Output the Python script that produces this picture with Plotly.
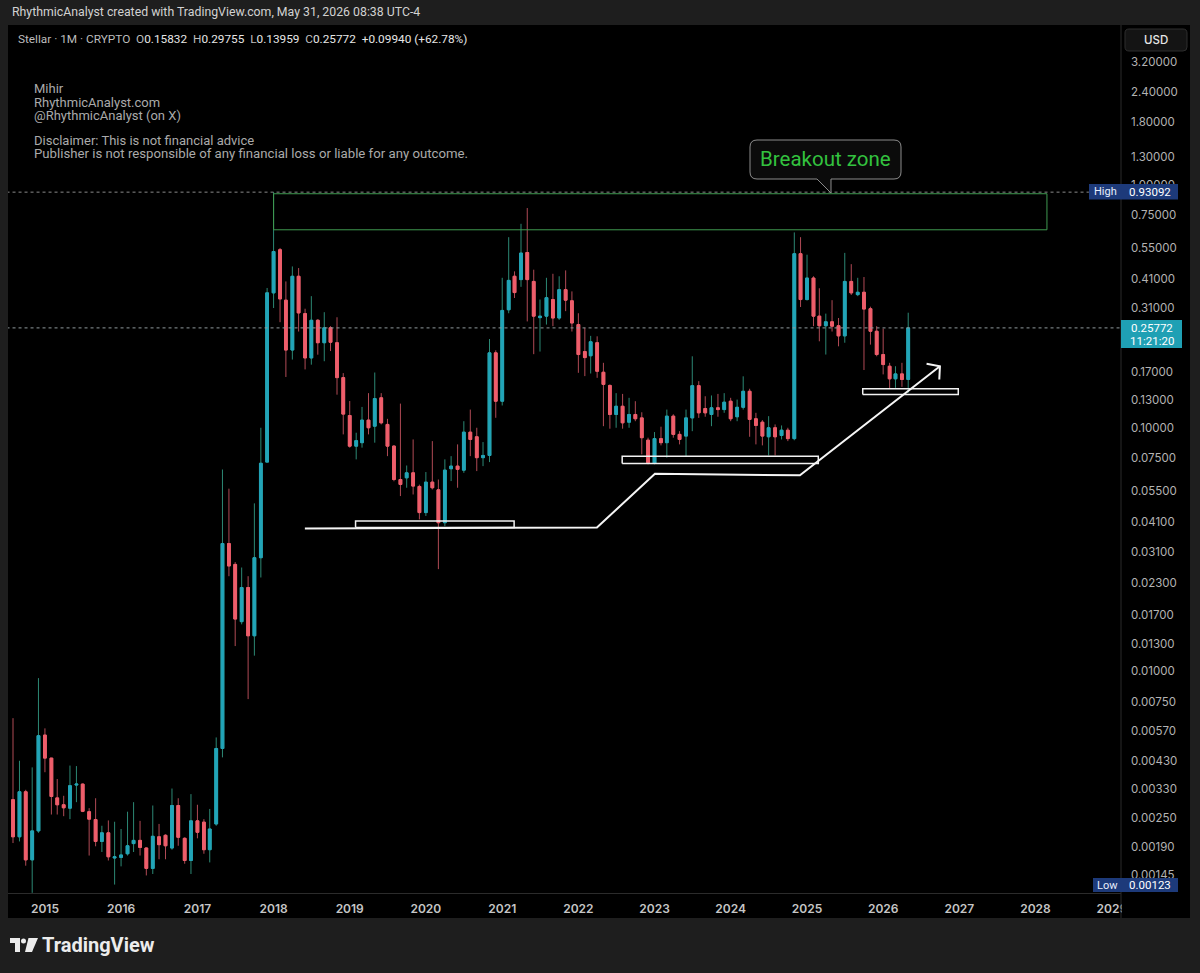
import numpy as np
import pandas as pd
import plotly.graph_objects as go

# ---------------- data (monthly XLM/USD, Aug 2014 - May 2026) ----------------
months = pd.date_range("2014-08-01", periods=142, freq="MS")

opens = [
    0.00297, 0.00209, 0.00320, 0.00168, 0.00221,
    0.00547, 0.00440, 0.00302, 0.00283, 0.00274, 0.00341, 0.00344, 0.00265, 0.00246, 0.00200, 0.00217, 0.00171,
    0.00172, 0.00178, 0.00196, 0.00202, 0.00188, 0.00155, 0.00209, 0.00212, 0.00188, 0.00281, 0.00206, 0.00167,
    0.00243, 0.00240, 0.00185, 0.00236, 0.00482, 0.0335, 0.0275, 0.0160, 0.0221, 0.0140, 0.0293, 0.0724,
    0.359, 0.540, 0.335, 0.209, 0.420, 0.295, 0.194, 0.277, 0.224, 0.258, 0.224, 0.161,
    0.1125, 0.0842, 0.0870, 0.1077, 0.1017, 0.133, 0.1034, 0.0842, 0.0614, 0.0624, 0.0654, 0.0575,
    0.0449, 0.0599, 0.0557, 0.0408, 0.0680, 0.0697, 0.0671, 0.0961, 0.0920, 0.0755, 0.0771, 0.2035,
    0.1288, 0.306, 0.420, 0.407, 0.526, 0.400, 0.284, 0.288, 0.337, 0.283, 0.370, 0.333,
    0.266, 0.206, 0.198, 0.224, 0.1694, 0.1495, 0.1136, 0.1228, 0.1056, 0.1136, 0.110, 0.0891,
    0.0715, 0.0904, 0.0870, 0.1118, 0.0941, 0.0926, 0.110, 0.1492, 0.1202, 0.1136, 0.1210, 0.119,
    0.1288, 0.1112, 0.1216, 0.1415, 0.1091, 0.1056, 0.092, 0.1002, 0.0931, 0.0979, 0.0904, 0.520,
    0.337, 0.413, 0.288, 0.263, 0.273, 0.263, 0.239, 0.400, 0.353, 0.361, 0.309, 0.2497,
    0.2003, 0.1793, 0.1592, 0.1668, 0.15832,
]
highs = [
    0.00642, 0.00429, 0.00326, 0.00403, 0.00938,
    0.00583, 0.00441, 0.00361, 0.00308, 0.00410, 0.00408, 0.00346, 0.00274, 0.00301, 0.00232, 0.00244, 0.00241,
    0.00225, 0.00265, 0.00290, 0.00243, 0.00189, 0.00281, 0.00236, 0.00214, 0.00330, 0.00301, 0.00208, 0.00313,
    0.00283, 0.00247, 0.00272, 0.00535, 0.0675, 0.0563, 0.0281, 0.0267, 0.0246, 0.0490, 0.1002, 0.376,
    0.93092, 0.549, 0.400, 0.461, 0.454, 0.309, 0.348, 0.280, 0.299, 0.262, 0.285, 0.168,
    0.129, 0.0956, 0.122, 0.139, 0.169, 0.139, 0.109, 0.0850, 0.1259, 0.0701, 0.0897, 0.0585,
    0.0659, 0.0883, 0.0614, 0.0743, 0.0766, 0.0856, 0.1066, 0.119, 0.1002, 0.0875, 0.232, 0.2085,
    0.414, 0.608, 0.440, 0.690, 0.801, 0.447, 0.337, 0.414, 0.430, 0.420, 0.444, 0.364,
    0.296, 0.258, 0.239, 0.238, 0.1852, 0.151, 0.139, 0.138, 0.133, 0.1288, 0.116, 0.0912,
    0.0962, 0.1012, 0.119, 0.1138, 0.0970, 0.119, 0.197, 0.1557, 0.135, 0.136, 0.138, 0.139,
    0.133, 0.1308, 0.163, 0.1449, 0.1154, 0.1077, 0.1118, 0.1034, 0.1024, 0.1002, 0.636, 0.608,
    0.515, 0.420, 0.375, 0.295, 0.335, 0.283, 0.524, 0.471, 0.414, 0.417, 0.315, 0.262,
    0.256, 0.1852, 0.1793, 0.1852, 0.29755,
]
lows = [
    0.00197, 0.00200, 0.00159, 0.00123, 0.00217,
    0.00385, 0.00258, 0.00258, 0.00254, 0.00247, 0.00290, 0.00264, 0.00175, 0.00191, 0.00181, 0.00167, 0.00133,
    0.00158, 0.00175, 0.00181, 0.00175, 0.00145, 0.00147, 0.00169, 0.00169, 0.00185, 0.00192, 0.00162, 0.00147,
    0.00206, 0.00178, 0.00164, 0.00232, 0.00443, 0.0246, 0.0127, 0.0156, 0.00769, 0.0116, 0.0243, 0.0723,
    0.311, 0.272, 0.162, 0.191, 0.249, 0.174, 0.182, 0.200, 0.188, 0.207, 0.137, 0.0941,
    0.0830, 0.0743, 0.0830, 0.0941, 0.0870, 0.1034, 0.0766, 0.0604, 0.0525, 0.0568, 0.0533, 0.0421,
    0.0435, 0.0559, 0.0263, 0.0395, 0.0605, 0.0568, 0.0654, 0.0766, 0.0665, 0.0697, 0.0724, 0.1101,
    0.1237, 0.296, 0.342, 0.380, 0.274, 0.201, 0.206, 0.266, 0.262, 0.278, 0.302, 0.249,
    0.1685, 0.1633, 0.1674, 0.1607, 0.1017, 0.0993, 0.1002, 0.0993, 0.1002, 0.1066, 0.0779, 0.0709,
    0.0709, 0.0848, 0.0755, 0.0912, 0.0856, 0.0766, 0.0970, 0.110, 0.1112, 0.1017, 0.1112, 0.1154,
    0.1066, 0.1066, 0.119, 0.092, 0.0856, 0.0848, 0.0771, 0.0771, 0.0897, 0.0883, 0.0890, 0.314,
    0.334, 0.262, 0.227, 0.2003, 0.249, 0.2165, 0.224, 0.352, 0.348, 0.173, 0.220, 0.1970,
    0.166, 0.1449, 0.1462, 0.1476, 0.13959,
]
closes = [
    0.00209, 0.00320, 0.00168, 0.00221, 0.00544,
    0.00440, 0.00306, 0.00283, 0.00275, 0.00339, 0.00344, 0.00266, 0.00247, 0.00200, 0.00217, 0.00173, 0.00173,
    0.00176, 0.00192, 0.00202, 0.00189, 0.00155, 0.00210, 0.00194, 0.00192, 0.00281, 0.00208, 0.00167, 0.00243,
    0.00218, 0.00185, 0.00225, 0.00482, 0.0335, 0.0271, 0.0164, 0.0221, 0.0140, 0.0293, 0.0716, 0.359,
    0.531, 0.339, 0.209, 0.420, 0.297, 0.194, 0.277, 0.224, 0.258, 0.225, 0.161, 0.114,
    0.0842, 0.0887, 0.1077, 0.1002, 0.132, 0.105, 0.0842, 0.0614, 0.0586, 0.0654, 0.0577, 0.0449,
    0.0599, 0.0568, 0.0408, 0.0671, 0.0697, 0.0676, 0.0961, 0.0897, 0.0755, 0.0771, 0.2035, 0.1288,
    0.304, 0.404, 0.360, 0.523, 0.407, 0.288, 0.288, 0.343, 0.283, 0.370, 0.335, 0.270,
    0.2003, 0.1946, 0.226, 0.171, 0.151, 0.1136, 0.1228, 0.105, 0.1136, 0.1091, 0.0912, 0.0720,
    0.0904, 0.0870, 0.1118, 0.0941, 0.0897, 0.110, 0.1492, 0.1154, 0.1154, 0.1210, 0.119, 0.1276,
    0.1091, 0.1216, 0.1415, 0.1084, 0.1024, 0.0926, 0.1002, 0.092, 0.0979, 0.0904, 0.520, 0.337,
    0.413, 0.288, 0.263, 0.273, 0.262, 0.239, 0.400, 0.359, 0.361, 0.308, 0.2497, 0.2003,
    0.1822, 0.1592, 0.1668, 0.1582, 0.25772,
]

year_ticks = list(range(2015, 2030))
price_ticks = [3.2, 2.4, 1.8, 1.3, 1.0, 0.75, 0.55, 0.41, 0.31, 0.17, 0.13, 0.10, 0.075,
               0.055, 0.041, 0.031, 0.023, 0.017, 0.013, 0.010, 0.0075, 0.0057, 0.0043,
               0.0033, 0.0025, 0.0019, 0.00145]

all_time_high = 0.93092
all_time_low = 0.00123
last_price = 0.25772

# drawings (in data units)
zone_x = ["2018-01-01", "2028-02-25"]
zone_y = [0.652, 0.917]
support_boxes = [
    ("2019-01-29", "2021-02-27", 0.0390, 0.0415),
    ("2022-07-30", "2025-02-24", 0.0715, 0.0766),
    ("2025-09-25", "2026-12-27", 0.1372, 0.1448),
]
trend_x = ["2018-05-31", "2022-03-31", "2023-01-03", "2024-11-28", "2026-09-30"]
trend_y = [0.0386, 0.0390, 0.0648, 0.0639, 0.1793]
head_x = ["2026-07-28", "2026-09-30", "2026-09-27"]
head_y = [0.1834, 0.1793, 0.1581]

# ---------------- geometry helpers (pixel -> paper) ----------------
W, H = 1200, 973
ML, MR, MT, MB = 8, 79, 25, 80
PW = W - ML - MR
PH = H - MT - MB


def px(x):
    return (x - ML) / PW


def py(y):
    return (H - MB - y) / PH


def P(x, y):
    return f"{px(x):.5f},{py(y):.5f}"


def rrect_path(x0, y0, x1, y1, r):
    return (f"M{P(x0 + r, y0)} L{P(x1 - r, y0)} Q{P(x1, y0)} {P(x1, y0 + r)} "
            f"L{P(x1, y1 - r)} Q{P(x1, y1)} {P(x1 - r, y1)} L{P(x0 + r, y1)} "
            f"Q{P(x0, y1)} {P(x0, y1 - r)} L{P(x0, y0 + r)} Q{P(x0, y0)} {P(x0 + r, y0)} Z")


UP_BODY, DN_BODY = "#22a4b8", "#ee5e6b"
UP_WICK, DN_WICK = "#2c8874", "#b04a55"
FONT = "Roboto"

fig = go.Figure()

o = np.array(opens)
c = np.array(closes)

# wicks
fig.add_trace(go.Candlestick(
    x=months, open=opens, high=highs, low=lows, close=closes,
    increasing=dict(line=dict(color=UP_WICK, width=1), fillcolor=UP_WICK),
    decreasing=dict(line=dict(color=DN_WICK, width=1), fillcolor=DN_WICK),
    whiskerwidth=0, hoverinfo="skip", showlegend=False))
# bodies
fig.add_trace(go.Candlestick(
    x=months, open=opens, high=np.maximum(o, c), low=np.minimum(o, c), close=closes,
    increasing=dict(line=dict(color=UP_BODY, width=1), fillcolor=UP_BODY),
    decreasing=dict(line=dict(color=DN_BODY, width=1), fillcolor=DN_BODY),
    whiskerwidth=0, hoverinfo="skip", showlegend=False))

# dotted high / last price lines
fig.add_trace(go.Scatter(x=["2014-07-01", "2028-09-13"], y=[all_time_high] * 2, mode="lines",
                         line=dict(color="#8a8a8a", width=1, dash="dot"), hoverinfo="skip"))
fig.add_trace(go.Scatter(x=["2014-07-01", "2029-03-01"], y=[last_price] * 2, mode="lines",
                         line=dict(color="#8f9a9c", width=1, dash="dot"), hoverinfo="skip"))

# breakout zone rectangle
fig.add_trace(go.Scatter(
    x=[zone_x[0], zone_x[1], zone_x[1], zone_x[0], zone_x[0]],
    y=[zone_y[0], zone_y[0], zone_y[1], zone_y[1], zone_y[0]],
    mode="lines", line=dict(color="#3f9a50", width=1), hoverinfo="skip"))

# support boxes
for x0, x1, y0, y1 in support_boxes:
    fig.add_trace(go.Scatter(x=[x0, x1, x1, x0, x0], y=[y0, y0, y1, y1, y0], mode="lines",
                             line=dict(color="#f2f2f2", width=1.5), hoverinfo="skip"))

# rising path with arrow
fig.add_trace(go.Scatter(x=trend_x, y=trend_y, mode="lines",
                         line=dict(color="#f5f5f5", width=2), hoverinfo="skip"))
fig.add_trace(go.Scatter(x=head_x, y=head_y, mode="lines",
                         line=dict(color="#f5f5f5", width=2), hoverinfo="skip"))

shapes = [
    # black chart panel
    dict(type="rect", xref="paper", yref="paper", x0=px(8), x1=px(1190), y0=py(918), y1=py(25),
         fillcolor="#000000", line=dict(width=0), layer="below"),
    # cover for overflowing time label under price scale
    dict(type="rect", xref="paper", yref="paper", x0=px(1122), x1=px(1190), y0=py(917), y1=py(894),
         fillcolor="#000000", line=dict(width=0), layer="above"),
    # price-scale separator
    dict(type="line", xref="paper", yref="paper", x0=px(1121), x1=px(1121), y0=py(918), y1=py(25),
         line=dict(color="#2b2b2b", width=1), layer="above"),
    # callout
    dict(type="path", xref="paper", yref="paper",
         path=(f"M{P(757, 140)} L{P(894, 140)} Q{P(901, 140)} {P(901, 147)} L{P(901, 172)} "
               f"Q{P(901, 179)} {P(894, 179)} L{P(831, 179)} L{P(831, 193)} L{P(817, 179)} "
               f"L{P(757, 179)} Q{P(750, 179)} {P(750, 172)} L{P(750, 147)} Q{P(750, 140)} {P(757, 140)} Z"),
         fillcolor="#0b0b0b", line=dict(color="#8c8c8c", width=1), layer="above"),
    # High label
    dict(type="rect", xref="paper", yref="paper", x0=px(1089), x1=px(1178), y0=py(199.5), y1=py(184),
         fillcolor="#1d3a7a", line=dict(width=0), layer="above"),
    # last price label
    dict(type="rect", xref="paper", yref="paper", x0=px(1121), x1=px(1182), y0=py(348), y1=py(320),
         fillcolor="#1fa0b4", line=dict(width=0), layer="above"),
    # Low label
    dict(type="rect", xref="paper", yref="paper", x0=px(1093), x1=px(1178), y0=py(892), y1=py(878),
         fillcolor="#1d3a7a", line=dict(width=0), layer="above"),
    # USD button
    dict(type="path", xref="paper", yref="paper", path=rrect_path(1125, 29, 1187, 51, 4),
         fillcolor="#141414", line=dict(color="#2e2e2e", width=1), layer="above"),
    # TradingView logo pieces
    dict(type="rect", xref="paper", yref="paper", x0=px(10), x1=px(20), y0=py(943), y1=py(938),
         fillcolor="#ececec", line=dict(width=0), layer="above"),
    dict(type="rect", xref="paper", yref="paper", x0=px(15), x1=px(20), y0=py(952), y1=py(938),
         fillcolor="#ececec", line=dict(width=0), layer="above"),
    dict(type="circle", xref="paper", yref="paper", x0=px(21), x1=px(26), y0=py(943.5), y1=py(938.5),
         fillcolor="#ececec", line=dict(width=0), layer="above"),
    dict(type="path", xref="paper", yref="paper",
         path=f"M{P(28.5, 938)} L{P(38, 938)} L{P(32, 952)} L{P(25, 952)} Z",
         fillcolor="#ececec", line=dict(width=0), layer="above"),
]


def txt(x, y, s, size=12, color="#cfcfcf", xanchor="left", family=FONT, weight=400):
    return dict(x=px(x), y=py(y), xref="paper", yref="paper", text=s, showarrow=False,
                xanchor=xanchor, yanchor="middle", align="left",
                font=dict(family=family, size=size, color=color, weight=weight))


NB = "\u00a0"
sep = NB * 2
legend_line = (
    f"<span style='color:#bdbdbd'>Stellar · 1M · CRYPTO</span>{sep}"
    f"O<span style='color:#e6e6e6'>0.15832</span>{sep}H<span style='color:#e6e6e6'>0.29755</span>{sep}"
    f"L<span style='color:#e6e6e6'>0.13959</span>{sep}C<span style='color:#e6e6e6'>0.25772</span>{sep}"
    f"<span style='color:#e6e6e6'>+0.09940 (+62.78%)</span>"
)

annotations = [
    txt(10, 12.5, "RhythmicAnalyst created with TradingView.com, May 31, 2026 08:38 UTC-4",
        size=12.3, color="#d2d2d2"),
    txt(16, 39.5, legend_line, size=11.8, color="#bdbdbd"),
    txt(32, 88.5, "Mihir", size=13, color="#aaaaaa"),
    txt(32, 102, "RhythmicAnalyst.com", size=13, color="#aaaaaa"),
    txt(32, 115.5, "@RhythmicAnalyst (on X)", size=13, color="#aaaaaa"),
    txt(32, 140, "Disclaimer: This is not financial advice", size=13, color="#aaaaaa"),
    txt(32, 153.5, "Publisher is not responsible of any financial loss or liable for any outcome.",
        size=13.2, color="#aaaaaa"),
    txt(825.5, 159, "Breakout zone", size=20.5, color="#33c23f", xanchor="center"),
    txt(1105, 192, "High", size=11, color="#e8eefc", xanchor="center"),
    txt(1149.5, 192, f"{all_time_high:.5f}", size=11.5, color="#ffffff", xanchor="center"),
    txt(1151.5, 327.5, f"{last_price:.5f}", size=11.5, color="#ffffff", xanchor="center"),
    txt(1151.5, 341, "11:21:20", size=11.5, color="#ffffff", xanchor="center"),
    txt(1107, 885, "Low", size=11, color="#e8eefc", xanchor="center"),
    txt(1149.5, 885, f"{all_time_low:.5f}", size=11.5, color="#ffffff", xanchor="center"),
    txt(1156, 40, "USD", size=11.5, color="#e6e6e6", xanchor="center", family="Inter", weight=500),
    txt(40, 945, "TradingView", size=20, color="#ececec", weight=700),
]

fig.update_layout(
    width=W, height=H,
    margin=dict(l=ML, r=MR, t=MT, b=MB),
    paper_bgcolor="#1e1e1e", plot_bgcolor="#000000",
    showlegend=False, hovermode=False,
    boxgap=0.32,
    xaxis=dict(
        type="date", range=["2014-07-08", "2029-02-14"],
        showgrid=False, zeroline=False, rangeslider=dict(visible=False),
        tickvals=[f"{y}-01-01" for y in year_ticks], ticktext=[str(y) for y in year_ticks],
        ticks="", ticklabelstandoff=5,
        tickfont=dict(family="Inter", size=12, color="#c6c6c6", weight=600),
        showline=True, linecolor="#2b2b2b", linewidth=1, fixedrange=True,
    ),
    yaxis=dict(
        type="log", range=[np.log10(0.001228), np.log10(4.526)], side="right",
        showgrid=False, zeroline=False,
        tickvals=price_ticks, ticktext=[f"{v:.5f}" for v in price_ticks],
        ticks="", ticklabelstandoff=9,
        tickfont=dict(family="Inter", size=11.5, color="#b3b3b3"),
        showline=False, fixedrange=True,
    ),
    shapes=shapes,
    annotations=annotations,
)

fig.write_html(
    "out.html",
    config={"displayModeBar": False, "staticPlot": True},
    post_script="document.body.style.margin='0';document.body.style.background='#1e1e1e';",
)
